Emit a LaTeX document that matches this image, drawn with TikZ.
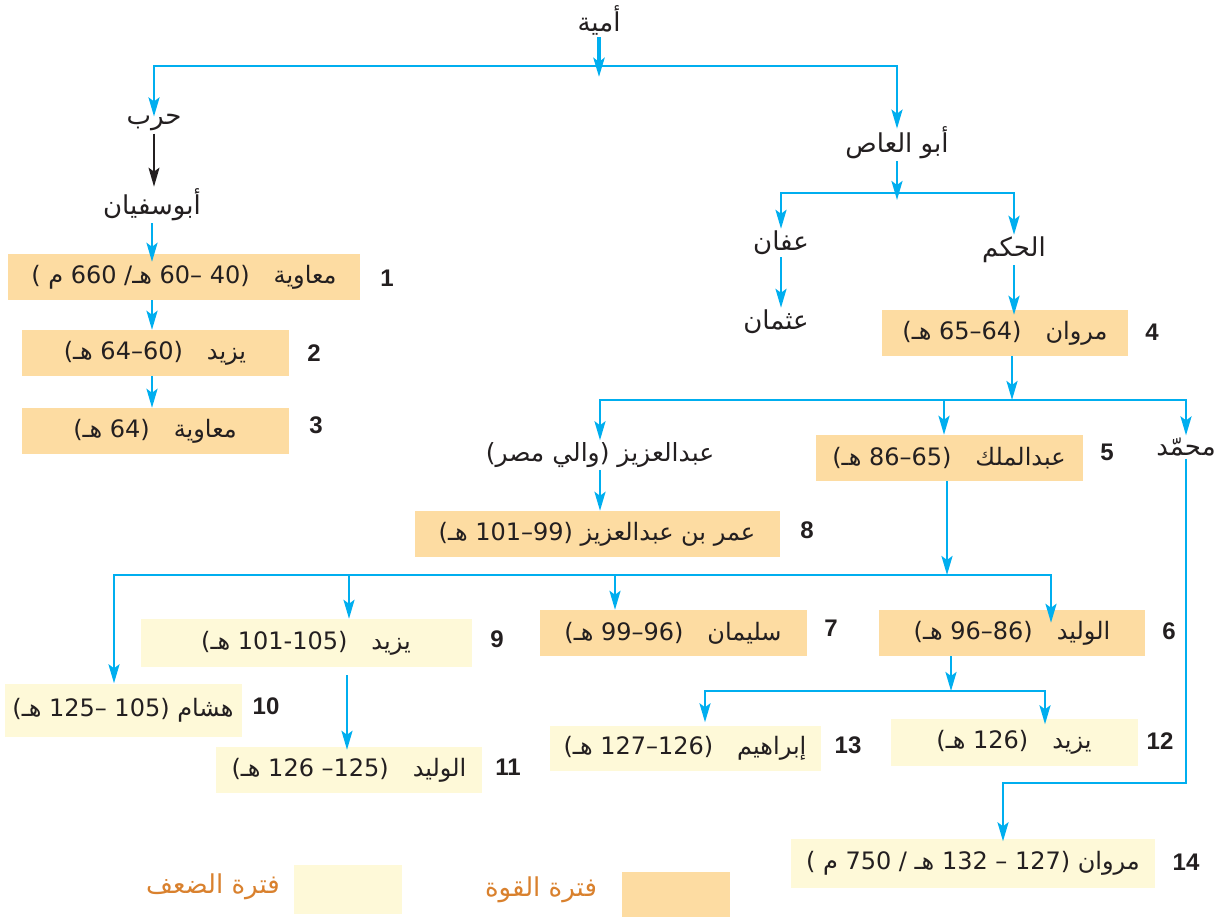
\documentclass[tikz,border=0pt]{standalone}
\usepackage{fontspec}
\usepackage{tikz}
\usetikzlibrary{arrows.meta}
\TeXXeTstate=1
\newfontfamily\arabicfont[Script=Arabic]{DejaVu Sans}
\newfontfamily\numfont{Liberation Sans}
\definecolor{lineblue}{HTML}{00AEEF}
\definecolor{hifill}{HTML}{FDDCA2}
\definecolor{lofill}{HTML}{FEF9D8}
\definecolor{legtext}{HTML}{D9812E}
\definecolor{ink}{HTML}{231F20}
\newcommand{\artxt}[1]{{\arabicfont\beginR #1\endR}}

\begin{document}
\begin{tikzpicture}[x=1pt, y=-1pt, font=\fontsize{24}{28}\selectfont,
    main/.style={inner sep=2pt, text=ink},
    word/.style={main, font=\fontsize{26}{28}\selectfont},
    box/.style={main, minimum height=46pt},
    hi/.style={box, fill=hifill},
    lo/.style={box, fill=lofill},
    num/.style={text=ink, font=\numfont\bfseries\fontsize{24}{28}\selectfont},
    link/.style={draw=lineblue, line width=2.6pt, -{Stealth[length=19pt, width=11pt, inset=4pt]}}]
    \useasboundingbox (0,0) rectangle (1220,917);

    \node[word] (U) at (599,20) {\artxt{أمية}};
    \node[word] (H) at (154,123) {\artxt{حرب}};
    \node[word] (S) at (152,205) {\artxt{أبوسفيان}};
    \node[word] (A) at (897,143) {\artxt{أبو العاص}};
    \node[word] (F) at (781,243) {\artxt{عفان}};
    \node[word] (O) at (776,322) {\artxt{عثمان}};
    \node[word] (K) at (1014,250) {\artxt{الحكم}};
    \node[word, font=\fontsize{25}{28}\selectfont] (Z) at (600,455) {\artxt{عبدالعزيز (والي مصر)}};
    \node[word] (M) at (1186,447) {\artxt{محمّد}};

    \node[hi, minimum width=352pt] (B1) at (184,277) {\artxt{معاوية\quad(40 –60 هـ/ 660 م )}};
    \node[hi, minimum width=267pt] (B2) at (155,353) {\artxt{يزيد\quad(60–64 هـ)}};
    \node[hi, minimum width=267pt] (B3) at (155,431) {\artxt{معاوية\quad(64 هـ)}};
    \node[hi, minimum width=246pt] (B4) at (1005,333) {\artxt{مروان\quad(64–65 هـ)}};
    \node[hi, minimum width=267pt] (B5) at (949,458) {\artxt{عبدالملك\quad(65–86 هـ)}};
    \node[hi, minimum width=266pt] (B6) at (1012,633) {\artxt{الوليد\quad(86–96 هـ)}};
    \node[hi, minimum width=267pt] (B7) at (673,633) {\artxt{سليمان\quad(96–99 هـ)}};
    \node[hi, minimum width=365pt] (B8) at (597,534) {\artxt{عمر بن عبدالعزيز (99–101 هـ)}};
    \node[lo, minimum width=331pt, minimum height=48pt] (B9) at (306,643) {\artxt{يزيد\quad(101-105 هـ)}};
    \node[lo, minimum width=237pt, minimum height=53pt] (B10) at (123,710) {\artxt{هشام (105 –125 هـ)}};
    \node[lo, minimum width=266pt] (B11) at (349,770) {\artxt{الوليد\quad(125– 126 هـ)}};
    \node[lo, minimum width=247pt, minimum height=47pt] (B12) at (1014,742) {\artxt{يزيد\quad(126 هـ)}};
    \node[lo, minimum width=271pt, minimum height=45pt] (B13) at (685,748) {\artxt{إبراهيم\quad(126–127 هـ)}};
    \node[lo, minimum width=364pt, minimum height=49pt] (B14) at (973,863) {\artxt{مروان (127 – 132 هـ / 750 م )}};

    \node[num] (N1) at (387,278) {1};
    \node[num] (N2) at (314,353) {2};
    \node[num] (N3) at (316,425) {3};
    \node[num] (N4) at (1152,332) {4};
    \node[num] (N5) at (1107,452) {5};
    \node[num] (N6) at (1169,631) {6};
    \node[num] (N7) at (831,628) {7};
    \node[num] (N8) at (807,530) {8};
    \node[num] (N9) at (497,639) {9};
    \node[num] (N10) at (266,706) {10};
    \node[num] (N11) at (508,767) {11};
    \node[num] (N12) at (1160,741) {12};
    \node[num] (N13) at (848,745) {13};
    \node[num] (N14) at (1186,862) {14};

    % legend
    \fill[lofill] (294,865) rectangle (402,914);
    \fill[hifill] (622,872) rectangle (730,917);
    \node[word, text=legtext] (LW) at (213,887) {\artxt{فترة الضعف}};
    \node[word, text=legtext] (LS) at (541,890) {\artxt{فترة القوة}};

    \coordinate (J1) at (599,66);
    \coordinate (J2) at (897,193);
    \coordinate (J3) at (1012,400);
    \coordinate (J4) at (947,575);
    \coordinate (J5) at (951,691);
    \coordinate (T14) at (1003,783);

    \draw[link, line width=4pt, shorten >=-11pt] (U) -- (J1);
    \draw[link, shorten >=-4pt] (J1) -| (H);
    \draw[link, shorten >=-4pt] (J1) -| (A);
    \draw[ink, line width=1.5pt, -{Stealth[length=19pt, width=11pt, inset=4pt]}] (H) -- (H |- S.north);
    \draw[link, shorten >=-8pt] (S) -- (S |- B1.north);
    \draw[link] (B1.south -| S) -- (B2.north -| S);
    \draw[link] (B2.south -| S) -- (B3.north -| S);

    \draw[link, shorten >=-7pt] (A) -- (J2);
    \draw[link] (J2) -| (F);
    \draw[link] (J2) -| (K);
    \draw[link] (F) -- (F |- O.north);
    \draw[link, shorten >=-5pt] (K) -- (K |- B4.north);

    \draw[link] (B4.south -| J3) -- (J3);
    \draw[link] (J3) -| (Z);
    \draw[link] (J3) -| (B5.north -| 944,0);
    \draw[link] (J3) -| (M);
    \draw[link] (Z) -- (Z |- B8.north);
    \draw[link, shorten >=-3pt] (M) |- (T14) -- (T14 |- B14.north);

    \draw[link] (B5.south -| J4) -- (J4);
    \draw[link] (J4) -| (B10.north -| 114,0);
    \draw[link] (J4) -| (B9.north -| 349,0);
    \draw[link] (J4) -| (B7.north -| 615,0);
    \draw[link, shorten >=-13pt] (J4) -| (B6.north -| 1051,0);
    \draw[link, shorten <=8pt, shorten >=-3pt] (B9.south -| 347,0) -- (B11.north -| 347,0);

    \draw[link] (B6.south -| J5) -- (J5);
    \draw[link, shorten >=3pt] (J5) -| (B13.north -| 705,0);
    \draw[link, shorten >=-6pt] (J5) -| (B12.north -| 1045,0);
\end{tikzpicture}
\end{document}
